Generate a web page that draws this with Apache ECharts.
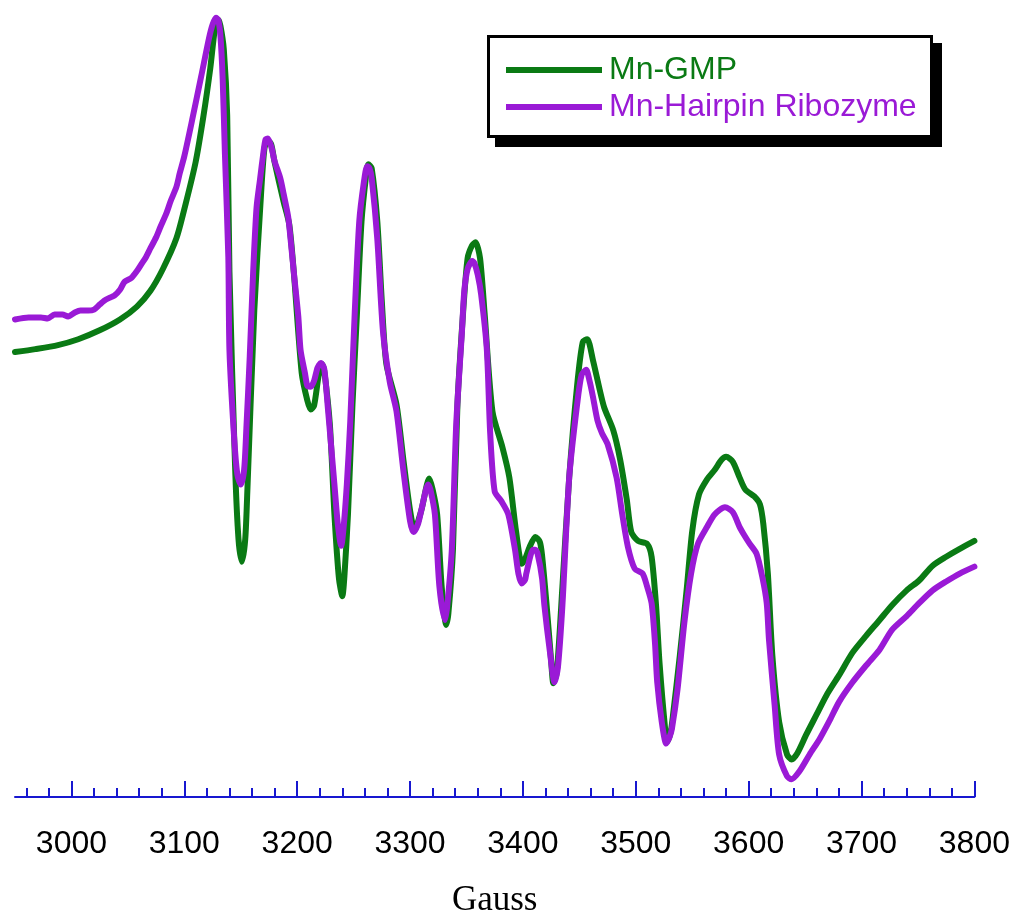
<!DOCTYPE html>
<html>
<head>
<meta charset="utf-8">
<title>EPR spectra: Mn-GMP vs Mn-Hairpin Ribozyme</title>
<script src="https://cdn.jsdelivr.net/npm/echarts@6/dist/echarts.min.js"></script>
<style>
  html, body { margin: 0; padding: 0; background: #ffffff; }
  #chart { width: 1013px; height: 923px; }
</style>
</head>
<body>
<div id="chart"></div>
<script>
// Magnetic field (Gauss) and derivative EPR signal (arbitrary units)
const gmpField = [2950, 2968, 2988, 3006, 3025, 3043, 3058, 3070, 3081, 3093, 3101, 3110, 3117, 3123, 3127, 3130, 3132, 3135, 3138, 3140, 3145, 3148, 3151, 3154, 3156, 3162, 3168, 3171, 3174, 3177, 3180, 3188, 3193, 3197, 3204, 3209, 3212, 3215, 3219, 3222, 3224, 3229, 3233, 3237, 3240, 3242, 3245, 3249, 3253, 3257, 3261, 3263, 3266, 3271, 3275, 3279, 3288, 3294, 3300, 3304, 3310, 3317, 3320, 3324, 3328, 3332, 3334, 3338, 3342, 3347, 3351, 3355, 3358, 3362, 3366, 3373, 3382, 3388, 3394, 3399, 3402, 3406, 3411, 3415, 3417, 3421, 3425, 3427, 3430, 3435, 3441, 3448, 3453, 3457, 3462, 3468, 3472, 3480, 3486, 3492, 3496, 3502, 3510, 3514, 3518, 3521, 3526, 3528, 3531, 3533, 3539, 3545, 3550, 3556, 3563, 3570, 3576, 3580, 3586, 3592, 3597, 3605, 3610, 3613, 3617, 3621, 3627, 3634, 3638, 3643, 3651, 3660, 3669, 3680, 3692, 3704, 3716, 3727, 3740, 3751, 3763, 3775, 3787, 3800];
const gmpSignal = [450, 453, 457, 463, 472, 483, 496, 512, 534, 565, 599, 642, 689, 737, 776, 786, 780, 756, 689, 531, 334, 261, 238, 261, 314, 492, 610, 656, 664, 660, 642, 602, 579, 531, 429, 401, 392, 396, 426, 438, 431, 376, 286, 221, 203, 226, 286, 397, 490, 582, 628, 640, 636, 582, 501, 438, 397, 342, 290, 270, 290, 322, 311, 286, 213, 174, 186, 250, 397, 490, 545, 558, 561, 545, 490, 390, 353, 323, 268, 236, 241, 253, 263, 258, 244, 194, 138, 115, 126, 213, 323, 416, 460, 463, 442, 412, 394, 371, 342, 301, 268, 259, 256, 243, 193, 136, 69, 56, 66, 83, 143, 209, 269, 306, 321, 331, 341, 344, 339, 323, 311, 304, 296, 276, 226, 143, 76, 43, 38, 44, 63, 83, 103, 123, 146, 163, 179, 194, 209, 219, 234, 243, 251, 259];

const ribozymeField = [2950, 2962, 2973, 2979, 2985, 2992, 2997, 3003, 3008, 3015, 3020, 3025, 3029, 3034, 3038, 3043, 3047, 3053, 3058, 3062, 3066, 3070, 3075, 3079, 3084, 3088, 3093, 3096, 3100, 3107, 3115, 3122, 3125, 3128, 3130, 3132, 3134, 3136, 3139, 3140, 3144, 3147, 3150, 3153, 3155, 3158, 3161, 3164, 3167, 3170, 3172, 3174, 3177, 3180, 3185, 3188, 3192, 3194, 3197, 3201, 3203, 3207, 3209, 3212, 3215, 3218, 3221, 3224, 3227, 3230, 3233, 3236, 3239, 3241, 3244, 3247, 3251, 3255, 3259, 3262, 3264, 3266, 3271, 3276, 3282, 3288, 3294, 3300, 3303, 3307, 3310, 3316, 3318, 3322, 3326, 3331, 3333, 3337, 3341, 3346, 3348, 3351, 3355, 3357, 3360, 3363, 3368, 3371, 3375, 3381, 3387, 3393, 3396, 3399, 3402, 3403, 3409, 3411, 3413, 3417, 3419, 3424, 3428, 3431, 3435, 3441, 3448, 3452, 3456, 3459, 3462, 3466, 3470, 3475, 3483, 3488, 3493, 3499, 3506, 3510, 3514, 3517, 3519, 3523, 3527, 3530, 3532, 3537, 3543, 3549, 3555, 3563, 3570, 3579, 3586, 3592, 3596, 3601, 3607, 3612, 3616, 3618, 3623, 3627, 3634, 3638, 3645, 3654, 3663, 3672, 3680, 3692, 3704, 3716, 3727, 3740, 3751, 3763, 3775, 3787, 3800];
const ribozymeSignal = [483, 485, 485, 484, 488, 488, 486, 490, 492, 492, 493, 498, 502, 505, 507, 513, 521, 525, 532, 539, 546, 555, 566, 577, 590, 603, 617, 631, 648, 685, 729, 768, 781, 788, 786, 770, 726, 650, 546, 452, 366, 326, 316, 331, 373, 446, 531, 596, 624, 651, 665, 666, 658, 643, 626, 610, 587, 566, 531, 486, 452, 428, 416, 415, 421, 434, 439, 433, 396, 356, 316, 276, 254, 271, 316, 379, 490, 582, 621, 638, 636, 626, 564, 471, 420, 390, 331, 279, 268, 276, 290, 316, 311, 286, 213, 179, 194, 250, 379, 471, 511, 534, 542, 540, 528, 508, 453, 368, 309, 299, 286, 250, 226, 216, 220, 226, 250, 250, 246, 221, 194, 146, 116, 131, 194, 323, 397, 427, 432, 421, 405, 381, 368, 357, 323, 286, 253, 231, 226, 213, 196, 156, 116, 76, 54, 61, 69, 109, 176, 226, 256, 273, 286, 293, 288, 273, 265, 256, 246, 223, 196, 159, 93, 43, 21, 18, 26, 43, 59, 78, 96, 116, 133, 149, 169, 183, 196, 209, 218, 226, 233];

// Axis ticks (Gauss)
const majorTicks = [3000, 3100, 3200, 3300, 3400, 3500, 3600, 3700, 3800];
const minorTicks = [2960, 2980, 3020, 3040, 3060, 3080, 3120, 3140, 3160, 3180, 3220, 3240, 3260, 3280, 3320, 3340, 3360, 3380, 3420, 3440, 3460, 3480, 3520, 3540, 3560, 3580, 3620, 3640, 3660, 3680, 3720, 3740, 3760, 3780];

const seriesNames = ['Mn-GMP', 'Mn-Hairpin Ribozyme'];
const seriesColors = ['#0a7a14', '#9a1ad6'];

const AXIS_BLUE = '#1818d0';
const SANS = "'Liberation Sans', Arial, Helvetica, sans-serif";

const pairs = (xs, ys) => xs.map((x, i) => [x, ys[i]]);

const chart = echarts.init(document.getElementById('chart'), null, { renderer: 'canvas' });

chart.setOption({
  animation: false,
  backgroundColor: '#ffffff',
  grid: { left: 15, right: 38, top: 6, bottom: 117, containLabel: false },
  // legend frame with a hard drop shadow
  graphic: [
    { type: 'rect', z: 90, silent: true, shape: { x: 495, y: 43, width: 447, height: 104 }, style: { fill: '#000000' } },
    { type: 'rect', z: 91, silent: true, shape: { x: 488.5, y: 36.5, width: 443, height: 100 }, style: { fill: '#ffffff', stroke: '#000000', lineWidth: 3 } }
  ],
  legend: {
    orient: 'vertical',
    left: 487,
    top: 35,
    z: 100,
    padding: [19, 18, 15, 19],
    itemGap: 5,
    itemWidth: 96,
    itemHeight: 6,
    icon: 'rect',
    backgroundColor: 'transparent',
    borderWidth: 0,
    textStyle: { fontFamily: SANS, fontSize: 32, padding: [0, 0, 0, 2] },
    data: seriesNames.map((n, i) => ({ name: n, textStyle: { color: seriesColors[i] } }))
  },
  xAxis: [
    {
      type: 'value',
      min: 2950,
      max: 3800,
      position: 'bottom',
      name: 'Gauss',
      nameLocation: 'middle',
      nameGap: 86,
      nameTextStyle: { fontFamily: "'Liberation Serif', 'Times New Roman', serif", fontSize: 35, color: '#000000' },
      axisLine: { show: true, onZero: false, lineStyle: { color: AXIS_BLUE, width: 2 } },
      axisTick: { show: true, inside: true, length: 16, customValues: majorTicks, lineStyle: { color: AXIS_BLUE, width: 2 } },
      axisLabel: {
        show: true, customValues: majorTicks, margin: 31,
        fontFamily: SANS, fontSize: 32, color: '#000000',
        formatter: (v) => String(v)
      },
      splitLine: { show: false }
    },
    {
      type: 'value',
      min: 2950,
      max: 3800,
      position: 'bottom',
      axisLine: { show: false, onZero: false },
      axisTick: { show: true, inside: true, length: 9, customValues: minorTicks, lineStyle: { color: AXIS_BLUE, width: 2 } },
      axisLabel: { show: false },
      splitLine: { show: false }
    }
  ],
  yAxis: { type: 'value', min: 0, max: 800, show: false },
  series: [
    {
      name: seriesNames[0],
      type: 'line',
      xAxisIndex: 0,
      data: pairs(gmpField, gmpSignal),
      showSymbol: false,
      smooth: 0.25,
      lineStyle: { color: seriesColors[0], width: 6, cap: 'round', join: 'round' },
      itemStyle: { color: seriesColors[0] },
      z: 2
    },
    {
      name: seriesNames[1],
      type: 'line',
      xAxisIndex: 0,
      data: pairs(ribozymeField, ribozymeSignal),
      showSymbol: false,
      smooth: 0.25,
      lineStyle: { color: seriesColors[1], width: 6, cap: 'round', join: 'round' },
      itemStyle: { color: seriesColors[1] },
      z: 3
    }
  ]
});
</script>
</body>
</html>
